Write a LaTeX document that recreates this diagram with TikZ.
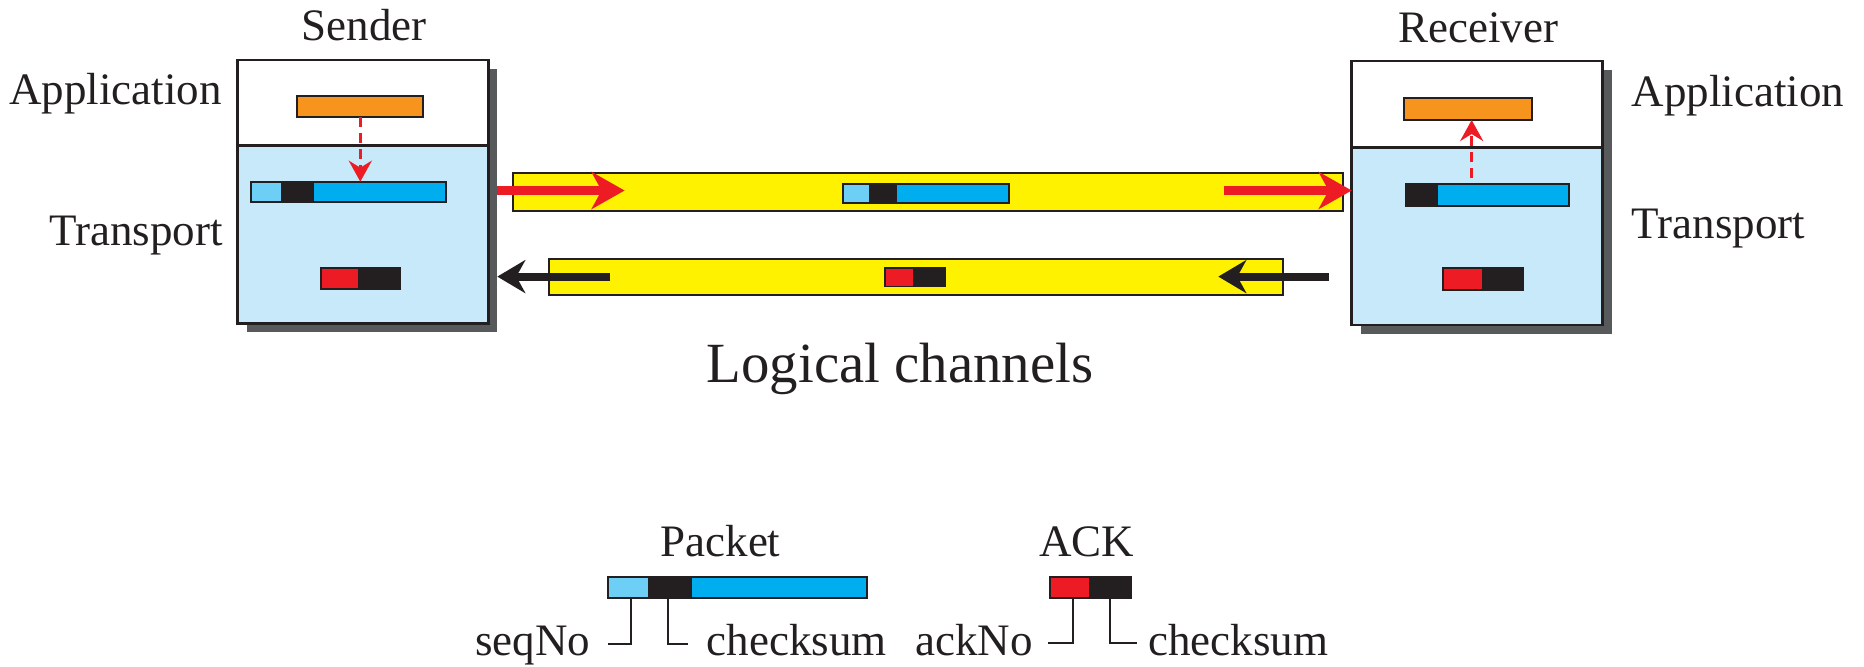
\documentclass[tikz,border=0pt]{standalone}
\usepackage{fontspec}
\setmainfont{Liberation Serif}
\usetikzlibrary{arrows.meta,fit}

\definecolor{ink}{RGB}{35,31,32}
\definecolor{tpblue}{RGB}{199,233,250}
\definecolor{shade}{RGB}{88,89,91}
\definecolor{appor}{RGB}{247,148,29}
\definecolor{seqblue}{RGB}{109,207,246}
\definecolor{payblue}{RGB}{0,174,239}
\definecolor{ackred}{RGB}{237,28,36}
\definecolor{chyellow}{RGB}{255,242,0}

% one coloured field of a packet or ACK bar
\newcommand\barseg[4]{\node[segm, fill=#4, fit={(#2) (#3)}] (#1) {};}

\tikzset{
  segm/.style={inner sep=0pt, outer sep=0pt, draw=none},
  outl/.style={inner sep=0pt, outer sep=0pt, draw=ink, line width=0.9pt},
  layer/.style={inner sep=0pt, outer sep=0pt, draw=ink, line width=1.4pt},
  chan/.style={inner sep=0pt, outer sep=0pt, draw=ink, line width=1pt, fill=chyellow},
  lbl/.style={inner sep=0pt, outer sep=0pt, text=ink, font=\fontsize{22.5}{27}\selectfont},
  biglbl/.style={lbl, font=\fontsize{28.4}{34}\selectfont},
  dasharrow/.style={draw=ackred, line width=1.5pt, dash pattern=on 5pt off 3pt,
    -{Stealth[length=10.5pt, width=11.5pt, inset=3.5pt]}},
  redflow/.style={draw=ackred, line width=4.5pt,
    -{Stealth[length=16.5pt, width=18.5pt, inset=5pt]}},
  ackflow/.style={draw=ink, line width=4pt,
    -{Stealth[length=14pt, width=16.5pt, inset=4.5pt]}},
  leader/.style={draw=ink, line width=1pt},
}

\begin{document}
\begin{tikzpicture}[x=0.5pt, y=-0.5pt]
\useasboundingbox (0,0) rectangle (1864,666);

% ---------- sender host ----------
\node[segm, fill=shade, fit={(246.7,69) (497.3,332.3)}] (sshad) {};
\node[layer, fill=white, fit={(237.7,60) (488.3,145.7)}] (sapl) {};
\node[layer, fill=tpblue, fit={(237.7,145.7) (488.3,323.3)}] (strl) {};
\node[outl, fill=appor, fit={(297.3,96) (423.3,117.3)}] (sapp) {};
\barseg{spkA}{251,181.7}{281,202.3}{seqblue}
\barseg{spkB}{281,181.7}{314.3,202.3}{ink}
\barseg{spkC}{314.3,181.7}{445.7,202.3}{payblue}
\node[outl, fit={(251,181.7) (445.7,202.3)}] (spkt) {};
\barseg{sakA}{320.7,267.7}{358.3,289.3}{ackred}
\barseg{sakB}{358.3,267.7}{400,289.3}{ink}
\node[outl, fit={(320.7,267.7) (400,289.3)}] (sack) {};

% ---------- receiver host ----------
\node[segm, fill=shade, fit={(1360.7,70) (1611.7,334)}] (rshad) {};
\node[layer, fill=white, fit={(1351.7,61) (1602.7,147.7)}] (rapl) {};
\node[layer, fill=tpblue, fit={(1351.7,147.7) (1602.7,325)}] (rtrl) {};
\node[outl, fill=appor, fit={(1404,97.7) (1531.7,120)}] (rapp) {};
\barseg{rpkB}{1405.7,184}{1437.7,205.7}{ink}
\barseg{rpkC}{1437.7,184}{1569,205.7}{payblue}
\node[outl, fit={(1405.7,184) (1569,205.7)}] (rpkt) {};
\barseg{rakA}{1443.3,267.7}{1481.7,290}{ackred}
\barseg{rakB}{1481.7,267.7}{1523.3,290}{ink}
\node[outl, fit={(1443.3,267.7) (1523.3,290)}] (rack) {};

% ---------- logical channels ----------
\node[chan, fit={(513,173.3) (1343,211)}] (fwd) {};
\node[chan, fit={(549,259.3) (1283,294.7)}] (bwd) {};
\barseg{cpkA}{843,184}{868.6,203}{seqblue}
\barseg{cpkB}{868.6,184}{897.1,203}{ink}
\barseg{cpkC}{897.1,184}{1009,203}{payblue}
\node[outl, fit={(843,184) (1009,203)}] (cpkt) {};
\barseg{cakA}{885,268}{913,286.4}{ackred}
\barseg{cakB}{913,268}{945,286.4}{ink}
\node[outl, fit={(885,268) (945,286.4)}] (cack) {};

% data flow arrows
\coordinate (fwdA) at (624.6,190.5);
\coordinate (fwdB) at (1224,190.5);
\coordinate (bwdA) at (1329.3,276.6);
\coordinate (bwdB) at (1218.3,276.6);
\coordinate (bwdC) at (610.4,276.6);
\draw[redflow] (sshad.east |- fwdA) -- (fwdA);
\draw[redflow] (fwdB) -- (rtrl.west |- fwdB);
\draw[ackflow] (bwdA) -- (bwdB);
\draw[ackflow] (bwdC) -- (sshad.east |- bwdC);

% hand-over between layers
\draw[dasharrow] (sapp.south) -- (sapp.south |- spkt.north);
\draw[dasharrow, shorten <=3pt] ([xshift=1.9pt]rapp.south |- rpkt.north) -- ([xshift=1.9pt]rapp.south);

% ---------- labels ----------
\node[lbl, anchor=base] (sname) at (364.3,40.7) {Sender};
\node[lbl, anchor=base] (rname) at (1478,42.3) {Receiver};
\node[lbl, anchor=base east] (sapplbl) at (221.7,104) {Application};
\node[lbl, anchor=base east] (strlbl) at (222.7,245.7) {Transport};
\node[lbl, anchor=base west] (rapplbl) at (1631.7,106) {Application};
\node[lbl, anchor=base west] (rtrlbl) at (1631.7,238.3) {Transport};
\node[biglbl, anchor=base] (chlbl) at (900,382.7) {Logical channels};

% ---------- legend ----------
\node[lbl, anchor=base] (pktlbl) at (720.5,556.7) {Packet};
\node[lbl, anchor=base] (acklbl) at (1086.7,556.7) {ACK};
\barseg{lpkA}{607.7,576.7}{648.3,597.7}{seqblue}
\barseg{lpkB}{648.3,576.7}{691.7,597.7}{ink}
\barseg{lpkC}{691.7,576.7}{866.7,597.7}{payblue}
\node[outl, fit={(607.7,576.7) (866.7,597.7)}] (lpkt) {};
\barseg{lakA}{1050,576.7}{1089,597.7}{ackred}
\barseg{lakB}{1089,576.7}{1131,597.7}{ink}
\node[outl, fit={(1050,576.7) (1131,597.7)}] (lack) {};

\node[lbl, anchor=base east] (seqlbl) at (590,655) {seqNo};
\node[lbl, anchor=base west] (ck1lbl) at (706.7,655) {checksum};
\node[lbl, anchor=base east] (acknolbl) at (1032.7,655) {ackNo};
\node[lbl, anchor=base west] (ck2lbl) at (1148.3,655) {checksum};

\coordinate (kseq) at (631,644.3);    \coordinate (eseq) at (608.3,644.3);
\coordinate (kck1) at (667.7,644.3);  \coordinate (eck1) at (688.3,644.3);
\coordinate (kack) at (1072.7,643.3); \coordinate (eack) at (1048.3,643.3);
\coordinate (kck2) at (1110,643.3);   \coordinate (eck2) at (1137.3,643.3);
\draw[leader] (kseq |- lpkt.south) -- (kseq) -- (eseq);
\draw[leader] (kck1 |- lpkt.south) -- (kck1) -- (eck1);
\draw[leader] (kack |- lack.south) -- (kack) -- (eack);
\draw[leader] (kck2 |- lack.south) -- (kck2) -- (eck2);
\end{tikzpicture}
\end{document}
